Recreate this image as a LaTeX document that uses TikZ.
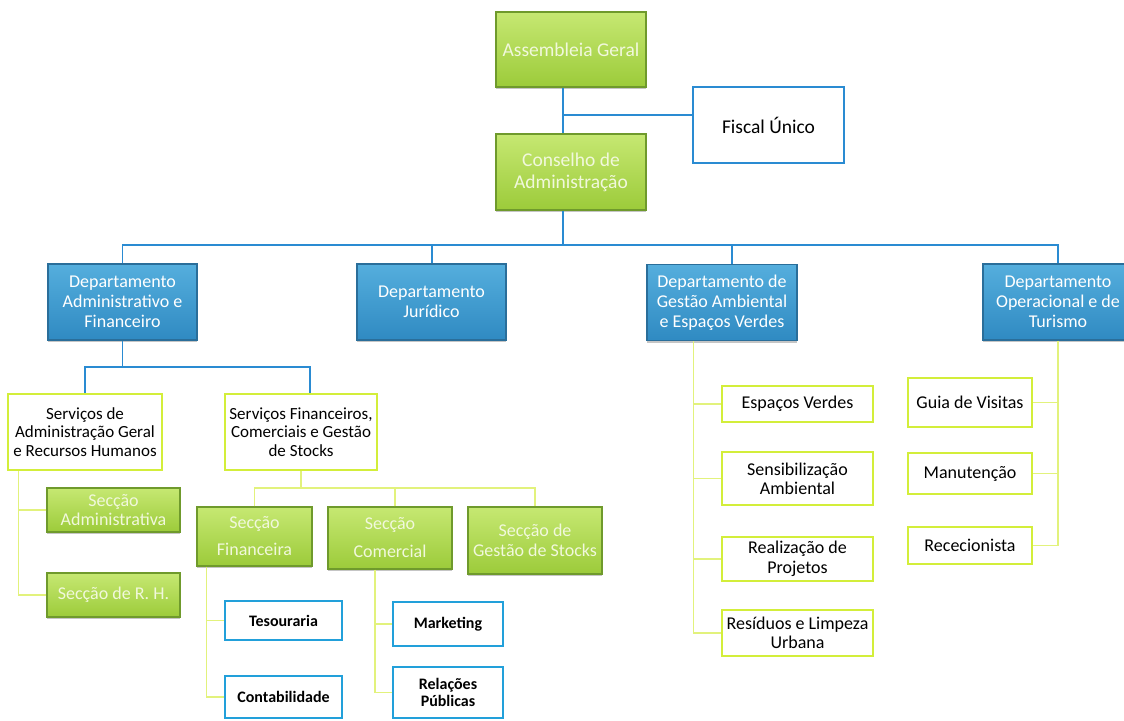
\documentclass[tikz,border=0pt]{standalone}
\usepackage{fontspec}
\setmainfont{Carlito}
\usetikzlibrary{shadows,calc}
\definecolor{gtop}{HTML}{C6E872}
\definecolor{gbot}{HTML}{9CCB3A}
\definecolor{gdraw}{HTML}{6F9A2C}
\definecolor{gtext}{HTML}{F1F8DC}
\definecolor{btop}{HTML}{55AEDD}
\definecolor{bbot}{HTML}{2F8AC2}
\definecolor{bdraw}{HTML}{2A6E9A}
\definecolor{ydraw}{HTML}{D3EE3A}
\definecolor{yline}{HTML}{E2F27C}
\definecolor{bline}{HTML}{2A8BD2}
\definecolor{bbox}{HTML}{22A0DA}
\tikzset{
  base/.style={rectangle, inner sep=1pt, align=center},
  greenbox/.style={base, top color=gtop, bottom color=gbot, draw=gdraw, line width=1.2pt,
     text=gtext, drop shadow={shadow xshift=0pt, shadow yshift=-2pt, opacity=0.45}},
  deptbox/.style={base, top color=btop, bottom color=bbot, draw=bdraw, line width=1.2pt,
     text=white, drop shadow={shadow xshift=0pt, shadow yshift=-2pt, opacity=0.45},
     font=\fontsize{18}{20}\selectfont},
  ybox/.style={base, fill=white, draw=ydraw, line width=2.8pt, text=black},
  bbx/.style={base, fill=white, draw=bbox, line width=2.8pt, text=black,
     font=\fontsize{16}{17}\selectfont\bfseries},
  bl/.style={draw=bline, line width=1.3pt},
  yl/.style={draw=yline, line width=1.3pt},
}
\begin{document}
\begin{tikzpicture}[x=1pt,y=-1pt]
\useasboundingbox[fill=white] (0,0) rectangle (1124,720);
% top
\node[greenbox, minimum width=150, minimum height=75, font=\fontsize{19.5}{21}\selectfont] (AG) at (571,49.5) {Assembleia Geral};
\node[greenbox, minimum width=150, minimum height=76, font=\fontsize{19.5}{22}\selectfont] (CA) at (571,172) {Conselho de\\Administração};
\node[base, fill=white, draw=bline, line width=2.8pt, minimum width=151, minimum height=76, font=\fontsize{19.5}{20}\selectfont] (FU) at (768.5,125) {Fiscal Único};
% departments
\node[deptbox, minimum width=149, minimum height=76] (DA) at (122.5,302) {Departamento\\Administrativo e\\Financeiro};
\node[deptbox, minimum width=149, minimum height=76] (DJ) at (431.5,302) {Departamento\\Jurídico};
\node[deptbox, minimum width=150, minimum height=76] (DG) at (722,302.5) {Departamento de\\Gestão Ambiental\\e Espaços Verdes};
\node[deptbox, minimum width=150, minimum height=76] (DO) at (1058,302) {Departamento\\Operacional e de\\Turismo};
% services
\node[ybox, minimum width=154, minimum height=76, font=\fontsize{17}{18.5}\selectfont] (SA) at (85,432) {Serviços de\\Administração Geral\\e Recursos Humanos};
\node[ybox, minimum width=152, minimum height=76, font=\fontsize{17}{18.5}\selectfont] (SF) at (301,432) {Serviços Financeiros,\\Comerciais e Gestão\\de Stocks};
% sections
\node[greenbox, minimum width=133, minimum height=44, font=\fontsize{18}{19}\selectfont] (SecAdm) at (113.5,510) {Secção\\Administrativa};
\node[greenbox, minimum width=133, minimum height=44, font=\fontsize{18}{19}\selectfont] (SecRH) at (113.5,595) {Secção de R. H.};
\node[greenbox, minimum width=115, minimum height=59, font=\fontsize{18}{27}\selectfont] (SecFin) at (254.5,536.5) {Secção\\Financeira};
\node[greenbox, minimum width=124, minimum height=62, font=\fontsize{18}{28}\selectfont] (SecCom) at (390,538) {Secção\\Comercial};
\node[greenbox, minimum width=134, minimum height=67, font=\fontsize{18}{20}\selectfont] (SecSt) at (535,540.5) {Secção de\\Gestão de Stocks};
% blue leaves
\node[bbx, minimum width=117, minimum height=39] (Tes) at (283.5,620.5) {Tesouraria};
\node[bbx, minimum width=117, minimum height=42] (Con) at (283.5,697) {Contabilidade};
\node[bbx, minimum width=110, minimum height=44] (Mkt) at (448,624) {Marketing};
\node[bbx, minimum width=110, minimum height=51] (RP) at (448,692.5) {Relações\\Públicas};
% environment
\node[ybox, minimum width=151, minimum height=36, font=\fontsize{18}{18}\selectfont] (EV) at (797.5,404) {Espaços Verdes};
\node[ybox, minimum width=151, minimum height=53, font=\fontsize{18}{19}\selectfont] (SEA) at (797.5,478.5) {Sensibilização\\Ambiental};
\node[ybox, minimum width=151, minimum height=44, font=\fontsize{18}{20}\selectfont] (RPj) at (797.5,559) {Realização de\\Projetos};
\node[ybox, minimum width=151, minimum height=46, font=\fontsize{18}{19}\selectfont] (Res) at (797.5,633) {Resíduos e Limpeza\\Urbana};
% operational
\node[ybox, minimum width=124, minimum height=49, font=\fontsize{18}{18}\selectfont] (GV) at (970,402.5) {Guia de Visitas};
\node[ybox, minimum width=124, minimum height=41, font=\fontsize{18}{18}\selectfont] (Man) at (970,473.5) {Manutenção};
\node[ybox, minimum width=124, minimum height=37, font=\fontsize{18}{18}\selectfont] (Rec) at (970,545.5) {Rececionista};
% blue connectors
\coordinate (j1) at ([xshift=-8]AG.south |- 0,115);
\coordinate (bus) at ([xshift=-8]CA.south |- 0,245);
\draw[bl] ([xshift=-8]AG.south) -- ([xshift=-8]CA.north);
\draw[bl] (j1) -- (FU.west |- j1);
\draw[bl] ([xshift=-8]CA.south) -- (bus);
\draw[bl] (DA.north) |- (bus) -| (DO.north);
\draw[bl] ([xshift=0.5]DJ.north) -- ([xshift=0.5]DJ.north |- bus);
\draw[bl] ([xshift=10]DG.north) -- ([xshift=10]DG.north |- bus);
\coordinate (b2) at (DA.south |- 0,367);
\draw[bl] (DA.south) -- (b2);
\draw[bl] (SA.north) |- (b2) -| ([xshift=9]SF.north);
% yellow connectors
\coordinate (v1) at ([xshift=12]SA.south west);
\draw[yl] (v1) |- (SecRH.west);
\draw[yl] (SecAdm.west) -- (SecAdm.west -| v1);
\coordinate (b3) at (SF.south |- 0,488);
\draw[yl] (SF.south) -- (b3);
\draw[yl] (SecFin.north) |- (b3) -| (SecSt.north);
\draw[yl] ([xshift=5]SecCom.north) -- ([xshift=5]SecCom.north |- b3);
\coordinate (v2) at ([xshift=10]SecFin.south west);
\draw[yl] (v2) |- (Con.west);
\draw[yl] (Tes.west) -- (Tes.west -| v2);
\coordinate (v3) at ([xshift=-15]SecCom.south);
\draw[yl] (v3) |- (RP.west);
\draw[yl] (Mkt.west) -- (Mkt.west -| v3);
\coordinate (v4) at ([xshift=47]DG.south west);
\draw[yl] (v4) |- (Res.west);
\draw[yl] (EV.west) -- (EV.west -| v4);
\draw[yl] (SEA.west) -- (SEA.west -| v4);
\draw[yl] (RPj.west) -- (RPj.west -| v4);
\draw[yl] (DO.south) |- (Rec.east);
\draw[yl] (GV.east) -- (GV.east -| DO.south);
\draw[yl] (Man.east) -- (Man.east -| DO.south);
\end{tikzpicture}
\end{document}
